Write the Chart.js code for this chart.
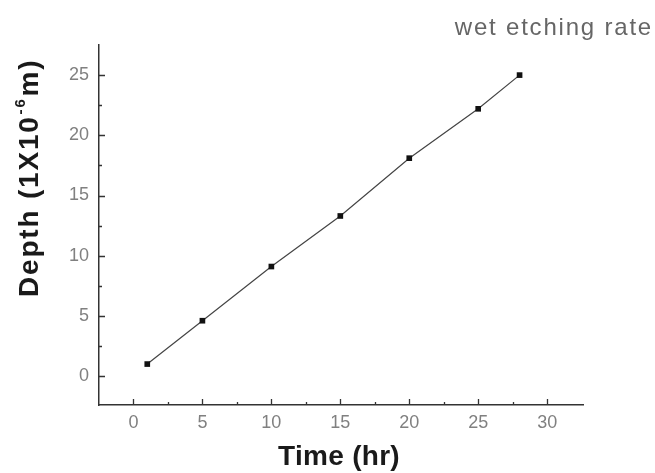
<!DOCTYPE html>
<html>
<head>
<meta charset="utf-8">
<script src="https://cdn.jsdelivr.net/npm/chart.js@4.4.0/dist/chart.umd.min.js"></script>
<style>
  html, body { margin: 0; padding: 0; background: #fff; }
  #wrap { width: 655px; height: 473px; }
</style>
</head>
<body>
<div id="wrap"><canvas id="etchChart" width="655" height="473"></canvas></div>
<script>
// data
const timeHr = [1, 5, 10, 15, 20, 25, 28];
const depth = [1.0, 4.6, 9.1, 13.3, 18.1, 22.2, 25.0];

// tick labels
const xTicks = [0, 5, 10, 15, 20, 25, 30];
const yTicks = [0, 5, 10, 15, 20, 25];

const chartTitle = "wet etching rate";
const xTitle = "Time (hr)";

// ticks point inward, with a minor tick halfway between majors
const innerTicks = {
  id: "innerTicks",
  afterDraw(chart) {
    const ctx = chart.ctx;
    const xs = chart.scales.x;
    const ys = chart.scales.y;
    const area = chart.chartArea;
    ctx.save();
    ctx.strokeStyle = "#333";
    ctx.lineWidth = 1.3;
    ctx.beginPath();
    xTicks.forEach((v, i) => {
      const px = Math.round(xs.getPixelForValue(v)) + 0.5;
      ctx.moveTo(px, area.bottom);
      ctx.lineTo(px, area.bottom - 6);
      if (i < xTicks.length - 1) {
        const mx = Math.round(xs.getPixelForValue((v + xTicks[i + 1]) / 2)) + 0.5;
        ctx.moveTo(mx, area.bottom);
        ctx.lineTo(mx, area.bottom - 3);
      }
    });
    yTicks.forEach((v, i) => {
      const py = Math.round(ys.getPixelForValue(v)) + 0.5;
      ctx.moveTo(area.left, py);
      ctx.lineTo(area.left + 6, py);
      if (i < yTicks.length - 1) {
        const my = Math.round(ys.getPixelForValue((v + yTicks[i + 1]) / 2)) + 0.5;
        ctx.moveTo(area.left, my);
        ctx.lineTo(area.left + 3, my);
      }
    });
    ctx.stroke();

    // title, top right
    ctx.fillStyle = "#666";
    ctx.font = "24px Arial, 'Liberation Sans', sans-serif";
    ctx.letterSpacing = "1.8px";
    ctx.textAlign = "right";
    ctx.textBaseline = "alphabetic";
    ctx.fillText(chartTitle, 653, 35);

    // x axis title
    ctx.fillStyle = "#1a1a1a";
    ctx.font = "bold 28px Arial, 'Liberation Sans', sans-serif";
    ctx.letterSpacing = "0.3px";
    ctx.textAlign = "center";
    ctx.fillText(xTitle, 339, 465);

    // y axis title with superscript
    ctx.translate(38, 297);
    ctx.rotate(-Math.PI / 2);
    ctx.textAlign = "left";
    ctx.letterSpacing = "1.8px";
    const big = "bold 28px Arial, 'Liberation Sans', sans-serif";
    const small = "bold 15px Arial, 'Liberation Sans', sans-serif";
    let cx = 0;
    ctx.font = big;
    ctx.fillText("Depth (1X10", cx, 0);
    cx += ctx.measureText("Depth (1X10").width + 1;
    ctx.font = small;
    ctx.fillText("-6", cx, -13);
    cx += ctx.measureText("-6").width + 1;
    ctx.font = big;
    ctx.fillText("m)", cx, 0);
    ctx.restore();
  }
};

new Chart(document.getElementById("etchChart"), {
  type: "scatter",
  data: {
    datasets: [{
      data: timeHr.map((t, i) => ({ x: t, y: depth[i] })),
      showLine: true,
      borderColor: "#444",
      borderWidth: 1.2,
      pointStyle: "rect",
      pointRadius: 4,
      pointBackgroundColor: "#111",
      pointBorderColor: "#111",
      pointBorderWidth: 0
    }]
  },
  options: {
    responsive: false,
    animation: false,
    events: [],
    layout: { padding: { top: 45, right: 72, left: 0, bottom: 0 } },
    plugins: { legend: { display: false }, tooltip: { enabled: false } },
    scales: {
      x: {
        type: "linear",
        min: -2.5,
        max: 32.6,
        afterBuildTicks: (s) => { s.ticks = xTicks.map(v => ({ value: v })); },
        afterFit: (s) => { s.height = 68; },
        grid: { drawOnChartArea: false, drawTicks: false },
        border: { display: true, color: "#333", width: 1.5 },
        ticks: { color: "#808080", font: { size: 18, family: "Arial, 'Liberation Sans', sans-serif" }, padding: 7 }
      },
      y: {
        type: "linear",
        min: -2.4,
        max: 27.5,
        afterBuildTicks: (s) => { s.ticks = yTicks.map(v => ({ value: v })); },
        afterFit: (s) => { s.width = 99; },
        grid: { drawOnChartArea: false, drawTicks: false },
        border: { display: true, color: "#333", width: 1.5 },
        ticks: { color: "#808080", font: { size: 18, family: "Arial, 'Liberation Sans', sans-serif" }, padding: 10 }
      }
    }
  },
  plugins: [innerTicks]
});
</script>
</body>
</html>
